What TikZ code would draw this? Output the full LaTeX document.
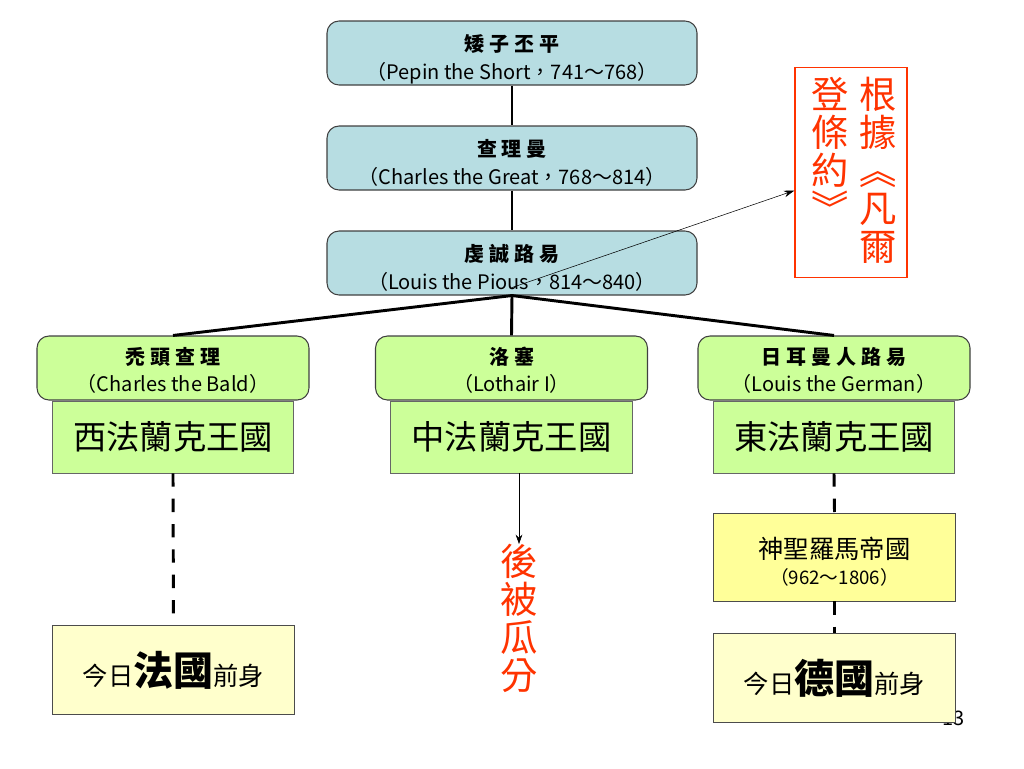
\documentclass[tikz,border=0pt]{standalone}
\usepackage{fontspec}
\newfontfamily\cjk{Noto Sans CJK TC}
\usetikzlibrary{positioning,arrows.meta}
\definecolor{kingblue}{RGB}{183,221,226}
\definecolor{sonsgreen}{RGB}{204,255,153}
\definecolor{paleyellow}{RGB}{255,255,204}
\definecolor{empyellow}{RGB}{255,255,153}
\definecolor{notered}{RGB}{255,51,0}
\newcommand\ttl{\fontsize{15}{20}\selectfont\bfseries\addfontfeature{LetterSpace=25}}
\newcommand\sbt{\fontsize{15}{20}\selectfont}
\begin{document}
\begin{tikzpicture}
  [
    x = 0.75pt, y = -0.75pt,
    every node/.style = {font = \cjk\fontsize{15}{20.5}\selectfont, align = center, inner sep = 0pt},
    king/.style = {draw = black!75, line width = 0.8pt, rounded corners = 9pt, fill = kingblue, minimum width = 277.5pt, minimum height = 48pt, text height = 43.5pt, text depth = 4.5pt},
    son/.style = {draw = black!75, line width = 0.8pt, rounded corners = 9pt, fill = sonsgreen, minimum width = 204pt, minimum height = 48pt, text height = 41.5pt, text depth = 6.5pt},
    realm/.style = {draw = black!60, line width = 0.6pt, fill = sonsgreen, minimum width = 181pt, minimum height = 54pt, font = \cjk\fontsize{25}{30}\selectfont},
    today/.style = {draw = black!70, line width = 0.6pt, fill = paleyellow, minimum width = 181pt, minimum height = 67pt},
    tree/.style = {line width = 2.2pt},
    later/.style = {line width = 2.2pt, dash pattern = on 10pt off 9pt},
    redtext/.style = {text = notered, font = \cjk\fontsize{28}{28.5}\selectfont}
  ]
    \useasboundingbox (0,0) rectangle (1024,768);
    \node (pnum) [anchor = east, font = \cjk\fontsize{15}{16}\selectfont] at (965,718) {13};
    % kings
    \node (pepin) [king] at (512,53) {{\ttl 矮子丕平}\\{\sbt （Pepin the Short，741～768）}};
    \node (charles) [king] at (512,158) {{\ttl 查理曼}\\{\sbt （Charles the Great，768～814）}};
    \node (louis) [king] at (512,263) {{\ttl 虔誠路易}\\{\sbt （Louis the Pious，814～840）}};
    % sons
    \node (bald) [son] at (173,368) {{\ttl 禿頭查理}\\{\sbt （Charles the Bald）}};
    \node (lothair) [son] at (511.5,368) {{\ttl 洛塞}\\{\sbt （Lothair I）}};
    \node (german) [son] at (834,368) {{\ttl 日耳曼人路易}\\{\sbt （Louis the German）}};
    \node (westfr) [realm, below = 0pt of bald] {西法蘭克王國};
    \node (midfr) [realm, below = 0pt of lothair] {中法蘭克王國};
    \node (eastfr) [realm, below = 0pt of german] {東法蘭克王國};
    % later
    \node (france) [today] at (173.5,670) {{\fontsize{19}{20}\selectfont 今日}{\fontsize{30}{30}\selectfont\bfseries 法國}{\fontsize{19}{20}\selectfont 前身}};
    \node (hre) [draw = black!70, line width = 0.6pt, fill = empyellow, minimum width = 181pt, minimum height = 66pt, text height = 53.3pt, text depth = 12.7pt] at (834.5,557) {{\fontsize{19}{24}\selectfont 神聖羅馬帝國}\\[-1pt]{\fontsize{14}{16}\selectfont （962～1806）}};
    \node (germany) [today] at (834.5,678) {{\fontsize{19}{20}\selectfont 今日}{\fontsize{30}{30}\selectfont\bfseries 德國}{\fontsize{19}{20}\selectfont 前身}};
    \node (split) [redtext, anchor = north] at (519,544) {後\\被\\瓜\\分};
    % treaty note
    \node (treaty) [draw = notered, line width = 0.8pt, fill = white, minimum width = 84pt, minimum height = 157pt] at (851,172.5) {};
    \node (treatyr) [redtext, anchor = north] at (878,77) {根\\據\\︽\\凡\\爾};
    \node (treatyl) [redtext, anchor = north] at (830,77) {登\\條\\約\\︾};
    \coordinate (pious) at ([yshift = 6pt]louis.south);
    % lines
    \draw [tree] (pepin) -- (charles);
    \draw [tree] (charles) -- (louis);
    \draw [tree] (louis.south) -- (bald.north);
    \draw [tree] (louis.south) -- (lothair.north);
    \draw [tree] (louis.south) -- (german.north);
    \draw [later] (westfr.south) -- (france.north);
    \draw [later] (eastfr.south) -- (hre.north);
    \draw [later] (hre.south) -- (germany.north);
    \draw [-{Stealth[length = 7pt, width = 5pt]}, thin] (split.north |- midfr.south) -- (split.north);
    \draw [-{Stealth[length = 8pt, width = 5pt]}, thin] (pious) -- ([yshift = -13.5pt]treaty.west);
  \end{tikzpicture}
\end{document}
